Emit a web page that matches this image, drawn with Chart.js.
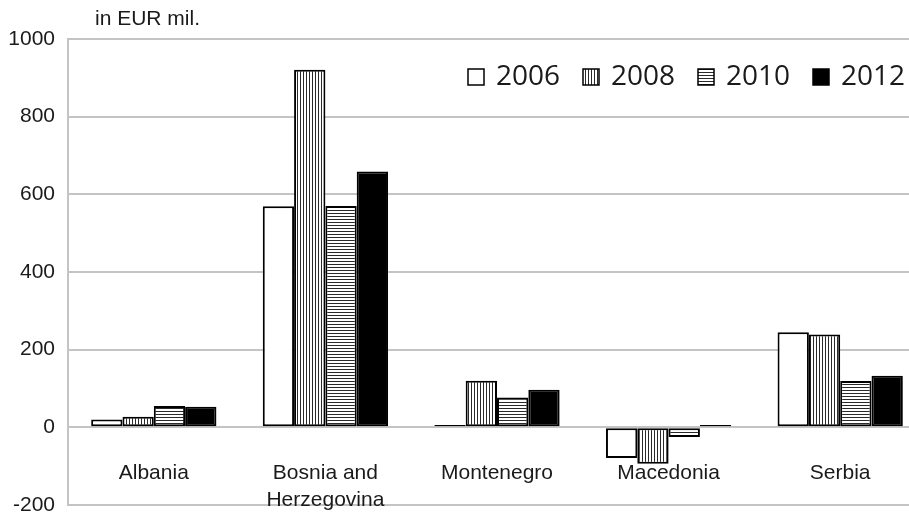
<!DOCTYPE html>
<html>
<head>
<meta charset="utf-8">
<script src="https://cdn.jsdelivr.net/npm/chart.js@4/dist/chart.umd.min.js"></script>
<style>
html,body{margin:0;padding:0;background:#fff;overflow:hidden;width:909px;height:515px;}
#wrap{width:926px;height:515px;}
</style>
</head>
<body>
<div id="wrap"><canvas id="c" width="926" height="515"></canvas></div>
<script>
const categories = [['Albania'], ['Bosnia and', 'Herzegovina'], ['Montenegro'], ['Macedonia'], ['Serbia']];
const seriesNames = ['2006', '2008', '2010', '2012'];
const v2006 = [20, 569, 6, -79, 245];
const v2008 = [27, 921, 120, -94, 239];
const v2010 = [55, 570, 77, -25, 119];
const v2012 = [53, 659, 97, 6, 133];
const yTicks = [-200, 0, 200, 400, 600, 800, 1000];
const unitLabel = 'in EUR mil.';

function makePattern(kind) {
  const pc = document.createElement('canvas');
  pc.width = 3; pc.height = 3;
  const g = pc.getContext('2d');
  g.fillStyle = '#ffffff';
  g.fillRect(0, 0, 3, 3);
  g.fillStyle = '#2a2a2a';
  if (kind === 'v') g.fillRect(0, 0, 1, 3);
  else g.fillRect(0, 0, 3, 1);
  return document.getElementById('c').getContext('2d').createPattern(pc, 'repeat');
}
const fills = ['#ffffff', makePattern('v'), makePattern('h'), '#000000'];
const values = [v2006, v2008, v2010, v2012];

const overlay = {
  id: 'overlay',
  afterDraw(chart) {
    const ctx = chart.ctx;
    ctx.save();
    ctx.fillStyle = '#1a1a1a';
    ctx.font = '21px "Liberation Sans", Arial, sans-serif';
    ctx.textBaseline = 'alphabetic';
    ctx.textAlign = 'left';
    ctx.fillText(unitLabel, 95, 25);
    const boxX = [468, 583, 698, 813];
    ctx.font = '28px "Open Sans", sans-serif';
    ctx.textBaseline = 'middle';
    seriesNames.forEach((n, i) => {
      const x = boxX[i], y = 69;
      ctx.fillStyle = fills[i];
      ctx.fillRect(x, y, 16, 16);
      ctx.lineWidth = 1.5;
      ctx.strokeStyle = '#000';
      ctx.strokeRect(x, y, 16, 16);
      ctx.fillStyle = '#1a1a1a';
      ctx.fillText(n, x + 28, 77);
    });
    ctx.restore();
  }
};

new Chart(document.getElementById('c'), {
  type: 'bar',
  data: {
    labels: categories,
    datasets: seriesNames.map((n, i) => ({
      label: n,
      data: values[i],
      backgroundColor: fills[i],
      borderColor: '#000000',
      borderWidth: 2,
      borderSkipped: false,
      inflateAmount: 0,
      categoryPercentage: 0.73,
      barPercentage: 1.0
    }))
  },
  options: {
    responsive: false,
    animation: false,
    devicePixelRatio: 1,
    layout: { padding: { top: 39, bottom: 10, left: 0, right: 0 } },
    plugins: { legend: { display: false }, tooltip: { enabled: false }, title: { display: false } },
    scales: {
      x: {
        position: { y: 0 },
        afterFit(scale) { scale.height = 0; scale.paddingLeft = 0; scale.paddingRight = 0; },
        grid: { display: false, drawTicks: false },
        border: { display: false },
        ticks: {
          color: '#1a1a1a',
          font: { family: '"Liberation Sans", Arial, sans-serif', size: 21, lineHeight: 1.25 },
          padding: 33,
          maxRotation: 0,
          autoSkip: false
        }
      },
      y: {
        min: -200,
        max: 1000,
        afterFit(scale) { scale.width = 68; scale.paddingTop = 0; scale.paddingBottom = 0; },
        afterBuildTicks(scale) { scale.ticks = yTicks.map(v => ({ value: v })); },
        grid: { color: '#c4c4c4', lineWidth: 2, drawTicks: false },
        border: { display: true, color: '#c4c4c4', width: 2 },
        ticks: {
          color: '#1a1a1a',
          font: { family: '"Liberation Sans", Arial, sans-serif', size: 21 },
          padding: 13,
          callback: (v) => String(v)
        }
      }
    }
  },
  plugins: [overlay]
});
</script>
</body>
</html>
